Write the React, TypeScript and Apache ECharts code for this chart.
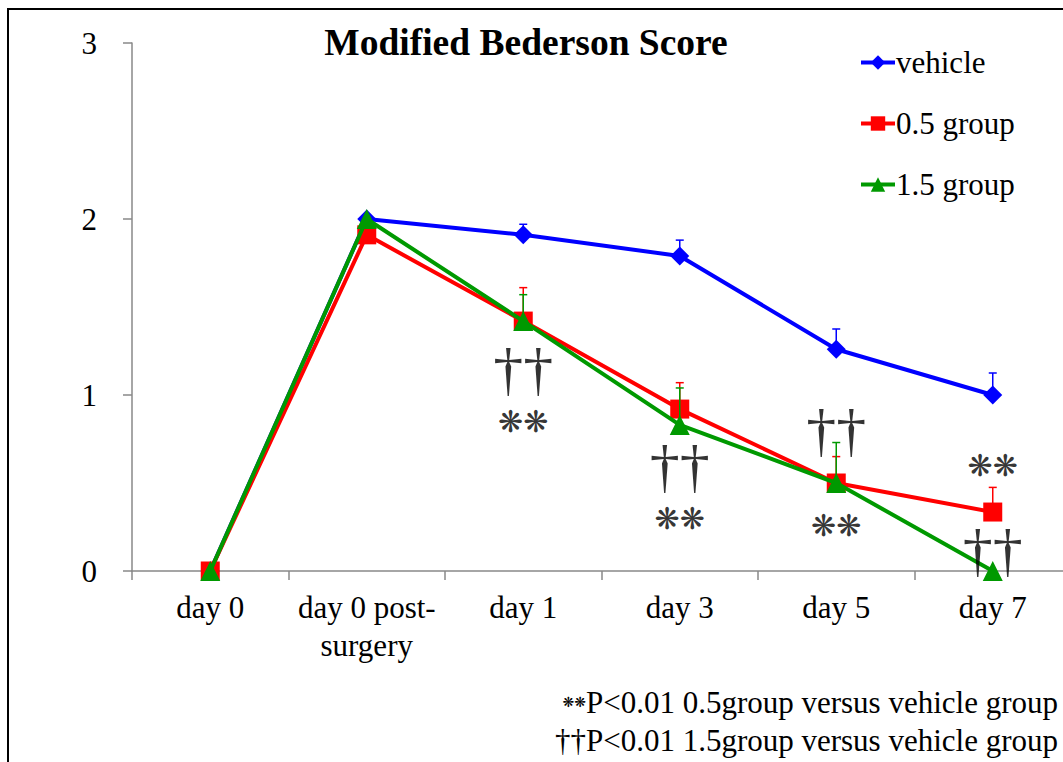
import React, { useEffect, useRef } from "react";
import * as echarts from "echarts";

const categories = ["day 0", "day 0 post-\nsurgery", "day 1", "day 3", "day 5", "day 7"];
const yTicks = [0, 1, 2, 3];

const vehicle = [0, 2.0, 1.91, 1.79, 1.26, 1.0];
const vehicleErr = [0, 0, 0.06, 0.09, 0.115, 0.125];
const group05 = [0, 1.91, 1.42, 0.92, 0.5, 0.335];
const group05Err = [0, 0, 0.19, 0.15, 0.15, 0.14];
const group15 = [0, 2.0, 1.42, 0.83, 0.5, 0];
const group15Err = [0, 0, 0.15, 0.21, 0.23, 0];

// significance marks: [category index, value position]
const daggerMarks = [[2, 1.148], [3, 0.597], [4, 0.8], [5, 0.12]];
const starMarks = [[2, 0.852], [3, 0.301], [4, 0.26], [5, 0.6]];

const footnote1 = "P<0.01 0.5group versus vehicle group";
const footnote2 = "††P<0.01 1.5group versus vehicle group";

const SERIF = "'Liberation Serif', 'Times New Roman', serif";

function errSeries(name: string, vals: number[], errs: number[], color: string, z: number) {
  return {
    type: "custom",
    name: name + "-err",
    z,
    silent: true,
    clip: false,
    data: vals.map((v, i) => [i, v, errs[i]]),
    renderItem: (params: any, api: any) => {
      const x = api.value(0);
      const y = api.value(1);
      const e = api.value(2);
      if (!e) return { type: "group", children: [] };
      const p0 = api.coord([x, y]);
      const p1 = api.coord([x, y + e]);
      return {
        type: "group",
        children: [
          { type: "line", shape: { x1: p0[0], y1: p0[1], x2: p1[0], y2: p1[1] }, style: { stroke: color, lineWidth: 1.5 } },
          { type: "line", shape: { x1: p1[0] - 4, y1: p1[1], x2: p1[0] + 4, y2: p1[1] }, style: { stroke: color, lineWidth: 1.5 } },
        ],
      };
    },
  };
}

export default function App() {
  const ref = useRef<HTMLDivElement>(null);
  useEffect(() => {
    const chart = echarts.init(ref.current!, null, { renderer: "svg" });
    const lineCommon = {
      type: "line",
      clip: false,
      lineStyle: { width: 4 },
    };
    chart.setOption({
      animation: false,
      backgroundColor: "#fff",
      title: {
        text: "Modified Bederson Score",
        left: 521,
        top: 18,
        textAlign: "center",
        textStyle: { fontFamily: SERIF, fontSize: 37.5, fontWeight: "bold", color: "#000" },
      },
      legend: {
        orient: "vertical",
        left: 854,
        top: 42,
        itemWidth: 34,
        itemHeight: 18,
        itemGap: 30,
        data: ["vehicle", "0.5 group", "1.5 group"],
        lineStyle: { width: 4 },
        textStyle: { fontFamily: SERIF, fontSize: 31, color: "#000", padding: [0, 0, 0, -4] },
      },
      graphic: [
        {
          type: "rect",
          shape: { x: 8, y: 9, width: 1100, height: 800 },
          style: { fill: "none", stroke: "#000", lineWidth: 2 },
          z: 100,
        },
        {
          type: "text",
          right: 22,
          top: 683,
          style: {
            text: "{s|❋❋}" + footnote1,
            fontFamily: SERIF,
            fontSize: 31,
            lineHeight: 38,
            fill: "#000",
            align: "right",
            rich: { s: { fontSize: 14, fontFamily: "'DejaVu Sans'", fontWeight: "bold", fill: "#000" } },
          },
        },
        {
          type: "text",
          right: 22,
          top: 721,
          style: {
            text: footnote2,
            fontFamily: SERIF,
            fontSize: 31,
            lineHeight: 38,
            fill: "#000",
            align: "right",
          },
        },
      ],
      grid: { left: 132, top: 43, width: 939, height: 528 },
      xAxis: {
        type: "category",
        data: categories,
        boundaryGap: true,
        axisLine: { lineStyle: { color: "#888", width: 1.5 } },
        axisTick: { show: true, length: 9, lineStyle: { color: "#888", width: 1.5 } },
        axisLabel: { interval: 0, fontFamily: SERIF, fontSize: 31, color: "#000", margin: 17, lineHeight: 38 },
      },
      yAxis: {
        type: "value",
        min: yTicks[0],
        max: yTicks[yTicks.length - 1],
        interval: 1,
        splitLine: { show: false },
        axisLine: { show: true, lineStyle: { color: "#888", width: 1.5 } },
        axisTick: { show: true, length: 9, lineStyle: { color: "#888", width: 1.5 } },
        axisLabel: { fontFamily: SERIF, fontSize: 31, color: "#000", margin: 35 },
      },
      series: [
        errSeries("vehicle", vehicle, vehicleErr, "#0000ff", 1),
        errSeries("0.5 group", group05, group05Err, "#ff0000", 3),
        errSeries("1.5 group", group15, group15Err, "#009900", 5),
        { ...lineCommon, name: "vehicle", data: vehicle, symbol: "diamond", symbolSize: 19, color: "#0000ff", z: 2 },
        { ...lineCommon, name: "0.5 group", data: group05, symbol: "rect", symbolSize: 19, color: "#ff0000", z: 4 },
        { ...lineCommon, name: "1.5 group", data: group15, symbol: "triangle", symbolSize: 20, color: "#009900", z: 6 },
        {
          type: "scatter",
          name: "daggers",
          symbolSize: 0,
          silent: true,
          z: 10,
          data: daggerMarks,
          label: {
            show: true,
            position: "inside",
            formatter: "††",
            fontFamily: SERIF,
            fontSize: 60,
            lineHeight: 50,
            color: "#000",
          },
        },
        {
          type: "scatter",
          name: "stars",
          symbolSize: 0,
          silent: true,
          z: 10,
          data: starMarks,
          label: {
            show: true,
            position: "inside",
            formatter: "❋❋",
            fontFamily: "'DejaVu Sans'",
            fontWeight: "bold",
            fontSize: 30,
            lineHeight: 26,
            color: "#000",
          },
        },
      ],
    });
    return () => chart.dispose();
  }, []);
  return (
    <div style={{ position: "absolute", left: 0, top: 0, width: 1063, height: 762, overflow: "hidden" }}>
      <div ref={ref} style={{ width: 1080, height: 762 }} />
    </div>
  );
}
